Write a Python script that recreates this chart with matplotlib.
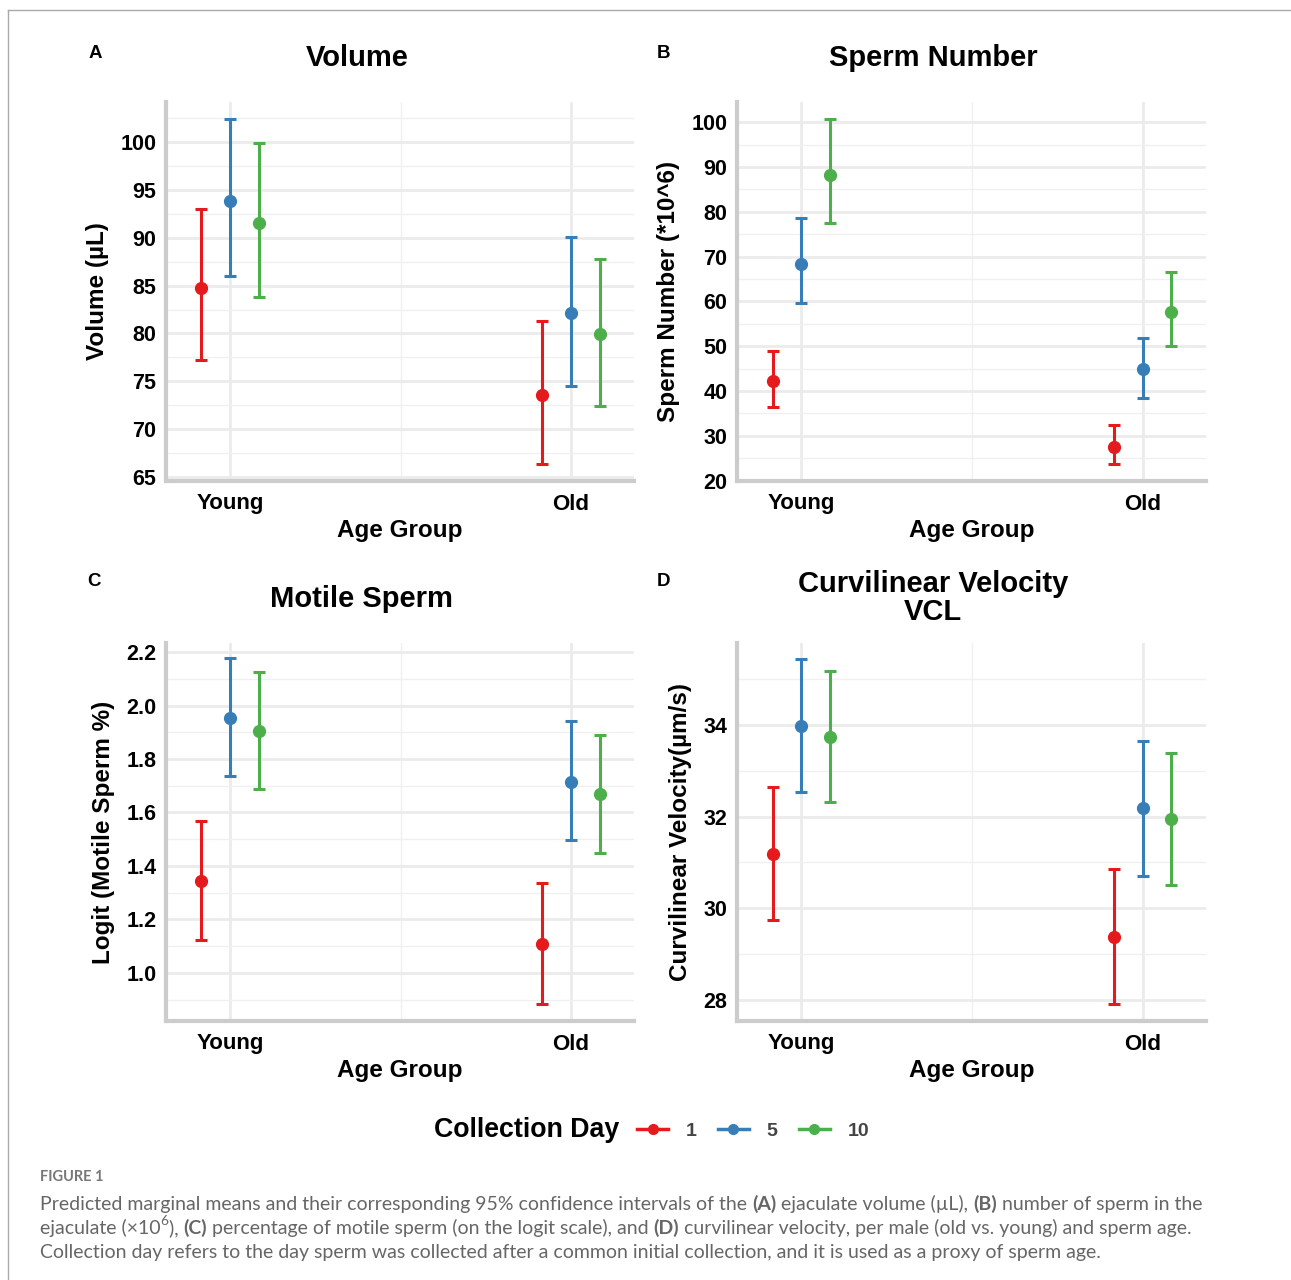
import matplotlib
matplotlib.use('Agg')
from matplotlib import pyplot as plt
from matplotlib.lines import Line2D
from matplotlib.ticker import MultipleLocator

# categories
age_groups = ['Young', 'Old']
days = ['1', '5', '10']
colors = ['#E41A1C', '#377EB8', '#4DAF4A']

# rows: collection day 1, 5, 10 ; columns: Young, Old
volume_mean = [[84.8, 73.6], [93.9, 82.1], [91.6, 79.9]]
volume_lo = [[77.2, 66.4], [86.0, 74.5], [83.8, 72.4]]
volume_hi = [[93.0, 81.3], [102.4, 90.1], [99.9, 87.8]]

number_mean = [[42.3, 27.6], [68.4, 44.8], [88.2, 57.7]]
number_lo = [[36.5, 23.8], [59.7, 38.5], [77.5, 50.1]]
number_hi = [[49.0, 32.3], [78.6, 51.9], [100.7, 66.6]]

motile_mean = [[1.344, 1.108], [1.953, 1.714], [1.904, 1.669]]
motile_lo = [[1.123, 0.884], [1.736, 1.497], [1.688, 1.449]]
motile_hi = [[1.568, 1.336], [2.178, 1.942], [2.125, 1.890]]

vcl_mean = [[31.18, 29.37], [33.98, 32.19], [33.74, 31.95]]
vcl_lo = [[29.74, 27.91], [32.54, 30.70], [32.32, 30.51]]
vcl_hi = [[32.65, 30.86], [35.44, 33.65], [35.18, 33.39]]

plt.rcParams['font.family'] = ['Liberation Sans', 'DejaVu Sans']
plt.rcParams['font.weight'] = 'bold'

W, H = 1291, 1280
fig = plt.figure(figsize=(W / 100, H / 100), dpi=100)


def px_rect(x0, y0, x1, y1):
    return [x0 / W, 1 - y1 / H, (x1 - x0) / W, (y1 - y0) / H]


dodge = 0.084


def panel(rect, mean, lo, hi, ylim, major, minor, ylabel, fmt=None):
    ax = fig.add_axes(rect)
    for i in range(3):
        xs = [g + 1 + (i - 1) * dodge for g in range(2)]
        m = mean[i]
        err = [[m[g] - lo[i][g] for g in range(2)], [hi[i][g] - m[g] for g in range(2)]]
        ax.errorbar(xs, m, yerr=err, fmt='o', color=colors[i], ms=8.5,
                    elinewidth=2.2, capsize=4.3, capthick=2.2, zorder=3)
    ax.set_xlim(0.812, 2.185)
    ax.set_ylim(*ylim)
    ax.set_xticks([1, 2])
    ax.set_xticklabels(age_groups)
    ax.xaxis.set_minor_locator(MultipleLocator(0.5))
    ax.yaxis.set_major_locator(MultipleLocator(major))
    ax.yaxis.set_minor_locator(MultipleLocator(minor))
    if fmt:
        ax.yaxis.set_major_formatter(plt.FormatStrFormatter(fmt))
    ax.grid(which='major', color='#EBEBEB', lw=2.0)
    ax.grid(which='minor', color='#F0F0F0', lw=1.0)
    ax.set_axisbelow(True)
    for s in ['top', 'right']:
        ax.spines[s].set_visible(False)
    for s in ['left', 'bottom']:
        ax.spines[s].set_color('#CCCCCC')
        ax.spines[s].set_linewidth(3)
    ax.tick_params(which='both', length=0)
    ax.tick_params(axis='y', labelsize=15.5, pad=7)
    ax.tick_params(axis='x', labelsize=16, pad=9)
    ax.set_xlabel('Age Group', fontsize=17.5, fontweight='bold', labelpad=3)
    ax.set_ylabel(ylabel, fontsize=17.5, fontweight='bold', labelpad=8)
    return ax


axA = panel(px_rect(166, 102, 634, 481), volume_mean, volume_lo, volume_hi,
            (64.58, 104.2), 5, 2.5, 'Volume (µL)')
axB = panel(px_rect(737, 102, 1206, 481), number_mean, number_lo, number_hi,
            (19.9, 104.5), 10, 5, 'Sperm Number (*10^6)')
axC = panel(px_rect(166, 643, 634, 1021), motile_mean, motile_lo, motile_hi,
            (0.82, 2.234), 0.2, 0.1, 'Logit (Motile Sperm %)', '%.1f')
axD = panel(px_rect(737, 643, 1206, 1021), vcl_mean, vcl_lo, vcl_hi,
            (27.54, 35.79), 2, 1, 'Curvilinear Velocity(µm/s)')
fig.align_ylabels([axA, axC])
fig.align_ylabels([axB, axD])

# titles and panel letters
fig.text(357 / W, 1 - 58 / H, 'Volume', ha='center', va='center', fontsize=21)
fig.text(933 / W, 1 - 58 / H, 'Sperm Number', ha='center', va='center', fontsize=21)
fig.text(361 / W, 1 - 599 / H, 'Motile Sperm', ha='center', va='center', fontsize=21)
fig.text(933 / W, 1 - 598 / H, 'Curvilinear Velocity\nVCL', ha='center', va='center',
         fontsize=21, linespacing=1.0)
for lab, x, y in [('A', 95, 54), ('B', 664, 54), ('C', 94, 581), ('D', 664, 581)]:
    fig.text(x / W, 1 - y / H, lab, ha='center', va='center', fontsize=13.5)

# legend
fig.text(619 / W, 1 - 1130 / H, 'Collection Day', ha='right', va='center', fontsize=19.3)
handles = [Line2D([], [], color=c, marker='o', lw=2.5, ms=7) for c in colors]
leg = fig.legend(handles, days, loc='center left', bbox_to_anchor=(637 / W, 1 - 1131 / H),
                 ncol=3, frameon=False, borderpad=0, borderaxespad=0, handlelength=1.6,
                 handletextpad=0.9, columnspacing=1.1, prop={'size': 14, 'weight': 'bold'})
for t in leg.get_texts():
    t.set_color('#444444')

# frame lines
fig.add_artist(Line2D([8 / W, 1], [1 - 10 / H, 1 - 10 / H], transform=fig.transFigure,
                      color='#AAAAAA', lw=1))
fig.add_artist(Line2D([8 / W, 8 / W], [0, 1 - 10 / H], transform=fig.transFigure,
                      color='#AAAAAA', lw=1))

# caption
cap_font = ['Lato', 'DejaVu Sans']
cap_size = 14
cap_color = '#666666'
fig.text(40 / W, 1 - 1177 / H, 'FIGURE 1', ha='left', va='center', fontsize=10.5,
         family=cap_font, fontweight='bold', color='#777777')

caption_lines = [
    [('Predicted marginal means and their corresponding 95% confidence intervals of the ', 0, 0),
     ('(A)', 1, 0), (' ejaculate volume (µL), ', 0, 0), ('(B)', 1, 0),
     (' number of sperm in the', 0, 0)],
    [('ejaculate (×10', 0, 0), ('6', 0, 1), ('), ', 0, 0), ('(C)', 1, 0),
     (' percentage of motile sperm (on the logit scale), and ', 0, 0), ('(D)', 1, 0),
     (' curvilinear velocity, per male (old vs. young) and sperm age.', 0, 0)],
    [('Collection day refers to the day sperm was collected after a common initial collection, '
      'and it is used as a proxy of sperm age.', 0, 0)],
]
for k, line in enumerate(caption_lines):
    y = 1 - (1213 + 24 * k) / H
    base = None
    prev = None
    for txt, bold, sup in line:
        kw = dict(fontsize=cap_size * (0.7 if sup else 1), family=cap_font, color=cap_color,
                  fontweight='bold' if bold else 'normal', va='bottom', ha='left')
        if base is None:
            base = fig.text(40 / W, y, txt, **kw)
            prev = base
        else:
            prev = fig.add_artist(matplotlib.text.Annotation(
                txt, xy=(1, 0), xycoords=(prev, base), xytext=(0, 7 if sup else 0),
                textcoords='offset points', annotation_clip=False, **kw))

fig.savefig('out.png', dpi=100)
